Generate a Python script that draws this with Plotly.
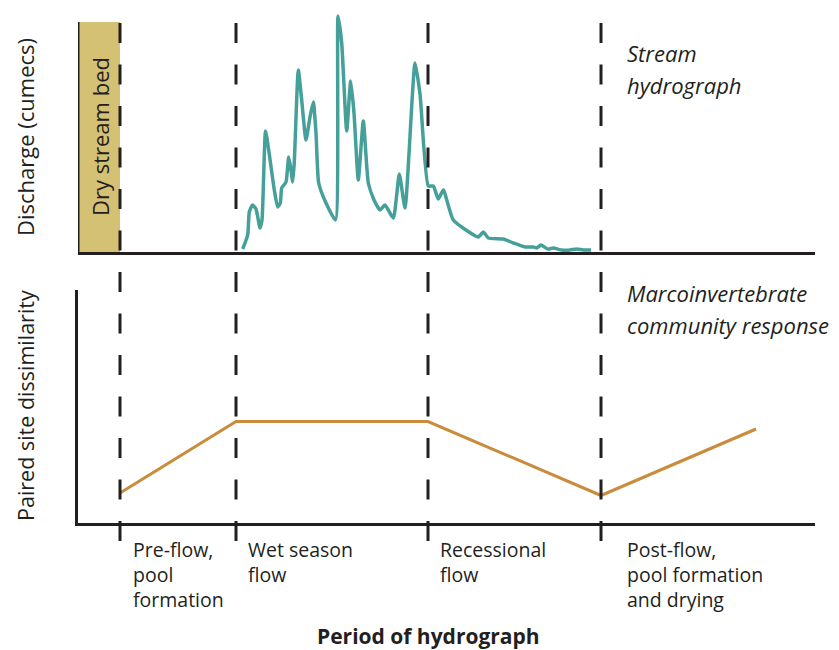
import plotly.graph_objects as go

# ---------------------------------------------------------------------------
# Data (time and values in arbitrary units)
# ---------------------------------------------------------------------------

# period boundaries along the time axis
period_bounds = [42, 158, 350, 523]
period_labels = [
    ["Pre-flow,", "pool", "formation"],
    ["Wet season", "flow"],
    ["Recessional", "flow"],
    ["Post-flow,", "pool formation", "and drying"],
]
dry_bed = [0, 42]

# stream hydrograph
hydro_t = [
    164.7, 169.7, 171.3, 174.5, 178, 182, 184, 187.5, 190.7, 196.3,
    199.7, 202.3, 203.7, 208, 210.7, 213, 214.7, 216.3, 220.3, 223.7,
    228, 232, 235.3, 238, 240.7, 248, 257.5, 260, 263.7, 268.7,
    272.7, 276, 280.3, 285.3, 290.3, 296, 302, 307, 315.3, 321.3,
    327, 337, 342, 350.3, 355.3, 360.3, 365.3, 375.3, 400.3, 405.3,
    410.3, 425.3, 435.3, 447, 455.3, 458.7, 463, 469.7, 475.3, 483.7,
    492, 498.7, 505.3, 513,
]
hydro_q = [
    3, 17, 40, 47, 43, 24, 32, 121, 102, 62,
    45, 49, 64, 70, 95, 82, 70, 90, 182, 152,
    112, 135, 150, 119, 69, 49, 32, 236, 209, 121,
    171, 139, 72, 131, 69, 52, 42, 47, 34, 78,
    44, 189, 158, 66, 66, 53, 62, 32, 15, 20,
    14, 13, 9, 5, 5, 4, 7, 3, 4, 2,
    2, 3, 2, 2,
]

# macroinvertebrate paired site dissimilarity
dis_t = [42, 158, 350, 523, 678]
dis_v = [30, 101.5, 101.5, 27.5, 94]

# ---------------------------------------------------------------------------
# Layout helpers (the page adds an 8px body margin, so the figure is 8px smaller)
# ---------------------------------------------------------------------------

OFF = 8
W, H = 839 - OFF, 650 - OFF
ML, MR, MT, MB = 78 - OFF, 24, 10 - OFF, 127
PW, PH = W - ML - MR, H - MT - MB
INK = "#231f20"
FONT = "Open Sans"


def px(x):
    # window pixel -> paper x
    return (x - OFF - ML) / PW


def py(y):
    # window pixel -> paper y
    return (H - MB - (y - OFF)) / PH


fig = go.Figure()

fig.add_trace(
    go.Scatter(
        x=hydro_t, y=hydro_q, mode="lines",
        line=dict(color="#45a09a", width=3.5, shape="spline", smoothing=0.5),
        xaxis="x", yaxis="y", hoverinfo="skip",
    )
)
fig.add_trace(
    go.Scatter(
        x=dis_t, y=dis_v, mode="lines",
        line=dict(color="#c98c3c", width=3),
        xaxis="x2", yaxis="y2", hoverinfo="skip",
    )
)

shapes = [
    # dry stream bed
    dict(type="rect", xref="x", yref="y", x0=dry_bed[0], x1=dry_bed[1],
         y0=0, y1=230, fillcolor="#d5c173", line_width=0, layer="below"),
    # left axis of hydrograph panel
    dict(type="line", xref="x", yref="y", x0=0, x1=0, y0=-1.5, y1=230,
         line=dict(color=INK, width=3)),
]
for b in period_bounds:
    shapes.append(
        dict(type="line", xref="x", yref="paper", x0=b, x1=b,
             y0=py(23), y1=py(544),
             line=dict(color=INK, width=3, dash="20px,21.5px"))
    )

annotations = [
    dict(text="Discharge (cumecs)", x=px(25), y=py(137), textangle=-90,
         font=dict(size=22)),
    dict(text="Paired site dissimilarity", x=px(25), y=py(406), textangle=-90,
         font=dict(size=21.5)),
    dict(text="Dry stream bed", x=px(100), y=py(137), textangle=-90,
         font=dict(size=22)),
    dict(text="<b>Period of hydrograph</b>", x=px(428), y=py(636),
         font=dict(size=21)),
]
italic_lines = [
    ("Stream", 53), ("hydrograph", 85),
    ("Marcoinvertebrate", 293), ("community response", 325),
]
for txt, ly in italic_lines:
    annotations.append(
        dict(text=f"<i>{txt}</i>", x=px(625), y=py(ly), xanchor="left",
             font=dict(size=22))
    )
label_x = [131, 246, 438, 625]
for lx, lines in zip(label_x, period_labels):
    for i, txt in enumerate(lines):
        annotations.append(
            dict(text=txt, x=px(lx), y=py(549 + 25.3 * i), xanchor="left",
                 font=dict(size=19.5))
        )
for a in annotations:
    a.update(xref="paper", yref="paper", showarrow=False)
    a.setdefault("xanchor", "center")
    a.setdefault("yanchor", "middle")

axis_common = dict(showgrid=False, zeroline=False, showticklabels=False,
                   ticks="", fixedrange=True)

fig.update_layout(
    width=W, height=H,
    margin=dict(l=ML, r=MR, t=MT, b=MB),
    paper_bgcolor="white", plot_bgcolor="white",
    showlegend=False,
    font=dict(family=FONT, color=INK),
    xaxis=dict(domain=[0, 1], range=[0, PW], anchor="y", showline=True,
               linewidth=3, linecolor=INK, **axis_common),
    yaxis=dict(domain=[py(252), 1], range=[0, 242], anchor="x",
               showline=False, **axis_common),
    xaxis2=dict(domain=[0, 1], range=[0, PW], anchor="y2", showline=True,
                linewidth=3, linecolor=INK, **axis_common),
    yaxis2=dict(domain=[0, py(290)], range=[0, 233], anchor="x2",
                showline=True, linewidth=3, linecolor=INK, **axis_common),
    shapes=shapes,
    annotations=annotations,
)

fig.write_html("out.html")
